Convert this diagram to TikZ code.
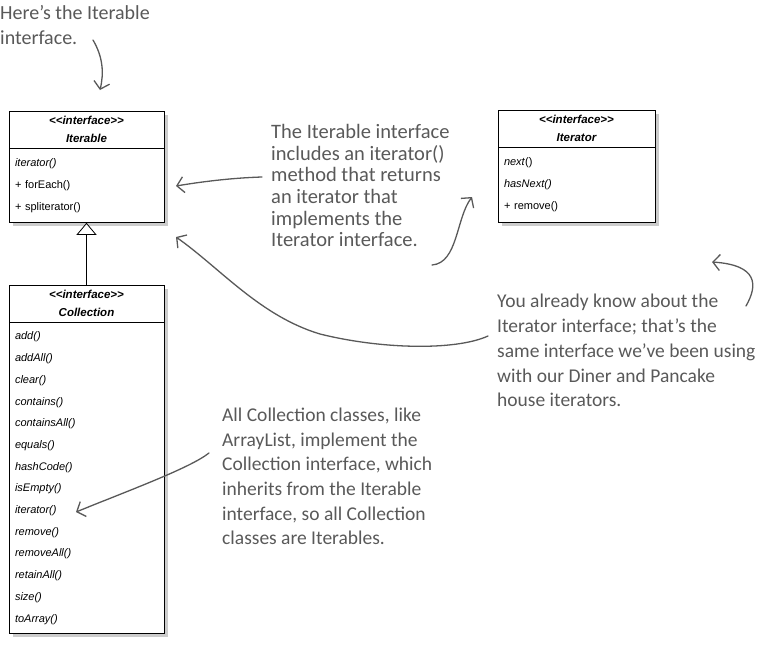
\documentclass[tikz,border=0pt]{standalone}
\usepackage{fontspec}
\setsansfont{Liberation Sans}[Ligatures=TeXOff]
\newfontfamily\handfont{Carlito}
\usetikzlibrary{arrows.meta,shadows,positioning}
\definecolor{pen}{gray}{0.35}
\newcommand{\stereo}{<\kern0pt<interface>\kern0pt>}
\tikzstyle{head} = [draw, fill=white, minimum width=155pt, minimum height=37pt, inner sep=0pt, align=center, font=\sffamily\bfseries\itshape\fontsize{11.5}{18}\selectfont, drop shadow={shadow xshift=3.5pt, shadow yshift=-3.5pt, fill=black!40}]
\tikzstyle{body} = [draw, fill=white, text width=143pt, inner xsep=6pt, inner ysep=0pt, align=left, font=\sffamily\fontsize{11}{22}\selectfont, drop shadow={shadow xshift=3.5pt, shadow yshift=-3.5pt, fill=black!40}]
\tikzstyle{note} = [text=pen, align=left, anchor=north west, inner sep=0pt, font=\handfont\fontsize{19.5}{22}\selectfont]
\tikzstyle{pointer} = [draw=pen, line width=1.3pt, line cap=round, -{Straight Barb[length=7pt, width=16pt]}]
\tikzstyle{inherit} = [draw, thick, -{Triangle[open, length=12pt, width=20pt, fill=white]}]

\begin{document}
\begin{tikzpicture}[x=1pt, y=-1pt]
    \useasboundingbox (0,0) rectangle (757,651);
    % Draw the interfaces.
    \node [head] (iterablehead) at (86.5,111) [anchor=north] {\stereo\\Iterable};
    \node [body, minimum height=74pt, below=0pt of iterablehead] (iterablebody)
        {\textit{iterator()}\\+ forEach()\\+ spliterator()};
    \node [head, minimum width=157pt] (iteratorhead) at (576.5,110) [anchor=north] {\stereo\\Iterator};
    \node [body, text width=145pt, minimum height=75pt, below=0pt of iteratorhead] (iteratorbody)
        {\textit{next}()\\\textit{hasNext()}\\+ remove()};
    \node [head] (collectionhead) at (86.5,285) [anchor=north] {\stereo\\Collection};
    \node [body, minimum height=311pt, below=0pt of collectionhead, font=\sffamily\itshape\fontsize{11}{21.7}\selectfont] (collectionbody)
        {add()\\addAll()\\clear()\\contains()\\containsAll()\\equals()\\hashCode()\\isEmpty()\\iterator()\\remove()\\removeAll()\\retainAll()\\size()\\toArray()};
    % Collection extends Iterable.
    \path [inherit] (collectionhead) -- (iterablebody);
    % Draw the notes.
    \node [note, font=\handfont\fontsize{20}{25}\selectfont] (topnote) at (0,5) {Here’s the Iterable\\interface.};
    \node [note, font=\handfont\fontsize{20.5}{21.7}\selectfont] (midnote) at (271,124)
        {The Iterable interface\\includes an iterator()\\method that returns\\an iterator that\\implements the\\Iterator interface.};
    \node [note, font=\handfont\fontsize{19.5}{24.8}\selectfont] (rightnote) at (497,294)
        {You already know about the\\Iterator interface; that’s the\\same interface we’ve been using\\with our Diner and Pancake\\house iterators.};
    \node [note, font=\handfont\fontsize{19.5}{24.6}\selectfont] (bottomnote) at (222,408)
        {All Collection classes, like\\ArrayList, implement the\\Collection interface, which\\inherits from the Iterable\\interface, so all Collection\\classes are Iterables.};
    % Ends of the pointers.
    \coordinate (toptail) at (93,40);
    \coordinate (toptip) at (100,90);
    \coordinate (midtail) at (262,177);
    \coordinate (midtip) at (176,186);
    \coordinate (uptail) at (432,265);
    \coordinate (uptip) at (472,197);
    \coordinate (longtail) at (488,336);
    \coordinate (longtip) at (176,237);
    \coordinate (hooktail) at (746,306);
    \coordinate (hooktip) at (712,262);
    \coordinate (lowtail) at (209,453);
    \coordinate (lowtip) at (76,512);
    % Draw the pointers.
    \draw [pointer] (toptail) .. controls (103,57) and (104,73) .. (toptip);
    \draw [pointer] (midtail) .. controls (230,178) and (200,182) .. (midtip);
    \draw [pointer] (uptail) .. controls (458,263) and (456,218) .. (uptip);
    \draw [pointer] (longtail) .. controls (455,351) and (380,349) .. (320,334)
        .. controls (260,316) and (220,268) .. (longtip);
    \draw [pointer] (hooktail) .. controls (758,285) and (758,265) .. (hooktip);
    \draw [pointer] (lowtail) .. controls (190,468) and (130,490) .. (lowtip);
\end{tikzpicture}
\end{document}
